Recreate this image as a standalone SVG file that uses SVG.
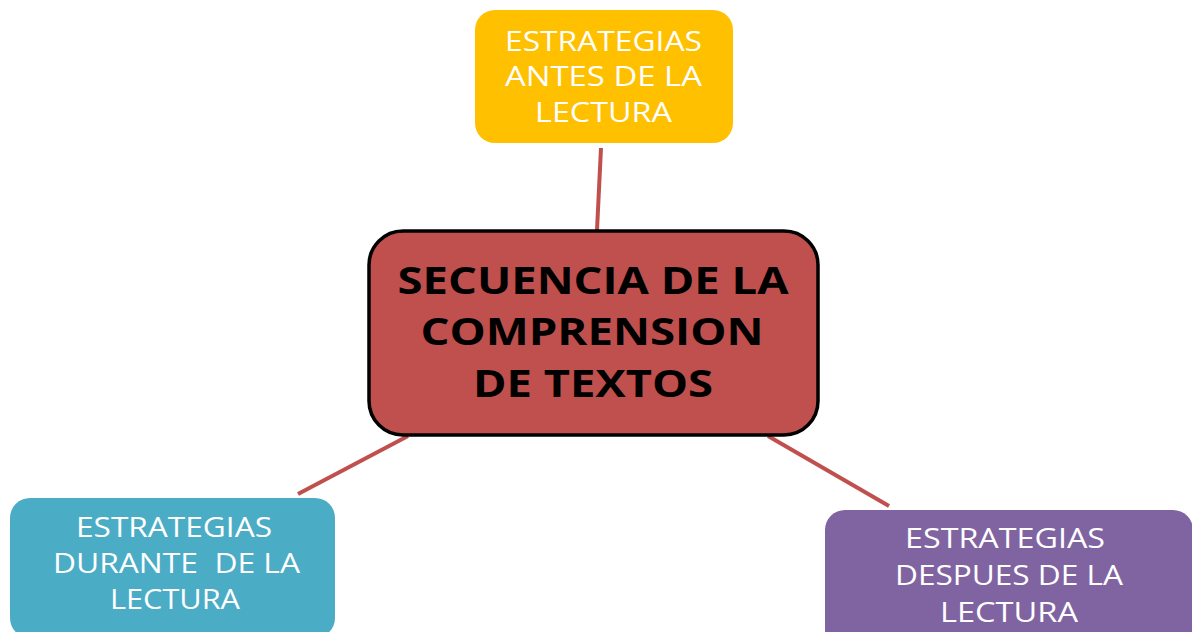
<svg xmlns="http://www.w3.org/2000/svg" width="1192" height="632" viewBox="0 0 1192 632">
<style>
.conn{stroke:#C0504D;stroke-width:4;fill:none}
.lbl{font-family:"Open Sans","Liberation Sans",Arial,sans-serif;font-size:27px;fill:#ffffff;text-anchor:middle}
.main{font-family:"Open Sans","Liberation Sans",Arial,sans-serif;font-size:37px;font-weight:bold;fill:#000000;text-anchor:middle}
</style>
<rect width="1192" height="632" fill="#ffffff"/>
<g id="connectors">
<line class="conn" x1="601" y1="148" x2="597" y2="230"/>
<line class="conn" x1="408" y1="436" x2="298" y2="494"/>
<line class="conn" x1="768" y1="436" x2="889" y2="506"/>
</g>
<g id="center">
<rect x="369" y="231" width="449" height="204" rx="34" fill="#C0504D" stroke="#000000" stroke-width="3.5"/>
<text class="main" x="593" y="294" textLength="391" lengthAdjust="spacingAndGlyphs">SECUENCIA DE LA</text>
<text class="main" x="592" y="345" textLength="343" lengthAdjust="spacingAndGlyphs">COMPRENSION</text>
<text class="main" x="593" y="397" textLength="240" lengthAdjust="spacingAndGlyphs">DE TEXTOS</text>
</g>
<g id="antes">
<rect x="475" y="10" width="258" height="133" rx="20" fill="#FFC000"/>
<text class="lbl" x="603.5" y="51" textLength="197" lengthAdjust="spacingAndGlyphs">ESTRATEGIAS</text>
<text class="lbl" x="603.5" y="86" textLength="197" lengthAdjust="spacingAndGlyphs">ANTES DE LA</text>
<text class="lbl" x="603.5" y="122" textLength="137" lengthAdjust="spacingAndGlyphs">LECTURA</text>
</g>
<g id="durante">
<rect x="10" y="498" width="325" height="140" rx="20" fill="#4BACC6"/>
<text class="lbl" x="174" y="537" textLength="196" lengthAdjust="spacingAndGlyphs">ESTRATEGIAS</text>
<text class="lbl" x="176.5" y="573" xml:space="preserve" textLength="247" lengthAdjust="spacingAndGlyphs">DURANTE  DE LA</text>
<text class="lbl" x="175" y="609" textLength="130" lengthAdjust="spacingAndGlyphs">LECTURA</text>
</g>
<g id="despues">
<rect x="825" y="510" width="368" height="140" rx="20" fill="#8064A2"/>
<text class="lbl" x="1005" y="548" textLength="200" lengthAdjust="spacingAndGlyphs">ESTRATEGIAS</text>
<text class="lbl" x="1009" y="585" textLength="228" lengthAdjust="spacingAndGlyphs">DESPUES DE LA</text>
<text class="lbl" x="1009" y="622" textLength="138" lengthAdjust="spacingAndGlyphs">LECTURA</text>
</g>
</svg>
